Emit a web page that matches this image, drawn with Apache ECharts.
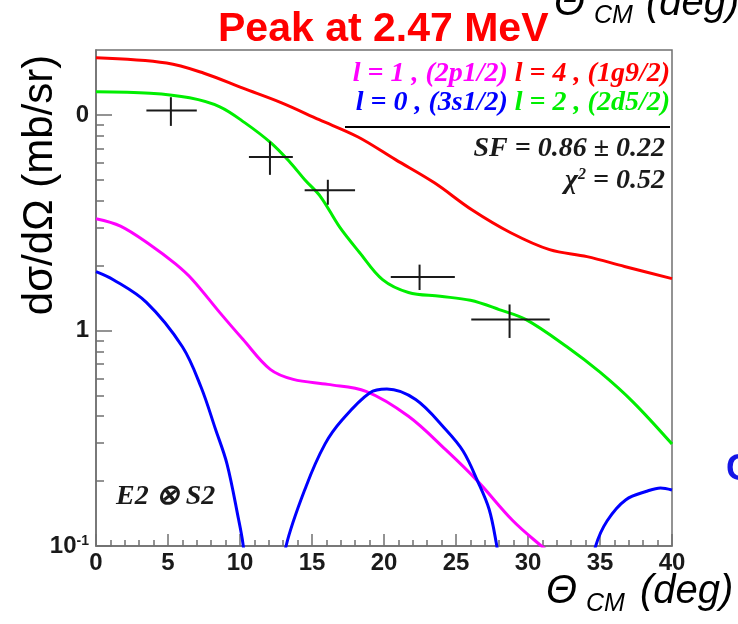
<!DOCTYPE html>
<html><head><meta charset="utf-8">
<script src="https://cdn.jsdelivr.net/npm/echarts@6/dist/echarts.min.js"></script>
<style>html,body{margin:0;padding:0;background:#fff}#c{width:738px;height:624px}</style>
</head><body><div id="c"></div>
<script>
// ---- axis ticks ----
const xMin = 0, xMax = 40, xInterval = 5;
const yMin = 0.1, yMax = 20;
const yMajorTicks = [0.1, 1, 10];
const yMinorTicks = [0.2,0.3,0.4,0.5,0.6,0.7,0.8,0.9,2,3,4,5,6,7,8,9];

// ---- l = 4 , (1g9/2)  (red) ----
const thetaL4 = [0,4.9,7.5,10.2,12.85,15.5,18.2,20.8,23.5,26.1,28.8,31.5,34.1,36.7,40];
const sigmaL4 = [18.4,17.4,15.6,13.3,11.4,9.5,7.9,6.2,4.84,3.63,2.84,2.37,2.2,1.98,1.74];

// ---- l = 2 , (2d5/2)  (green) ----
const thetaL2 = [0,3.75,6.5,8.6,10.35,12.15,13.5,14.5,15.6,16.9,18.3,19.9,21.7,23.9,26,28,29.9,32.7,35,37.3,40];
const sigmaL2 = [12.8,12.6,12.0,10.9,9.18,7.41,6.0,5.0,4.17,3.03,2.30,1.72,1.50,1.44,1.38,1.25,1.12,0.84,0.64,0.465,0.297];

// ---- l = 1 , (2p1/2)  (magenta) ----
const thetaL1 = [0,1.7,3.75,5.5,6.7,8.6,10.2,12.1,13.7,16.1,18.75,21.7,24.3,26.5,28.9,30.7,32,34];
const sigmaL1 = [3.3,3.05,2.5,2.04,1.72,1.21,0.91,0.66,0.593,0.562,0.522,0.40,0.279,0.2,0.132,0.103,0.088,0.07];

// ---- l = 0 , (3s1/2)  (blue) ----
const thetaL0 = [0,1.2,3.5,6,7.3,8.3,9.1,9.9,10.2,10.6,11.6,12.8,13.2,14.6,15.9,17.1,19,20.2,22.2,24.3,25.5,26.5,27.3,27.8,28.2,31.3,34.3,34.7,35.5,36.8,38.3,39.2,40];
const sigmaL0 = [1.875,1.72,1.35,0.84,0.545,0.348,0.24,0.133,0.103,0.06,0.01,0.06,0.1,0.19,0.297,0.385,0.513,0.535,0.478,0.346,0.275,0.2,0.148,0.103,0.07,0.01,0.07,0.1,0.131,0.164,0.18,0.186,0.182];

// ---- measured points with errors ----
const dataTheta = [5.2, 12.08, 16.1, 22.47, 28.72];
const dataSigma = [10.47, 6.37, 4.47, 1.77, 1.125];
const thetaLo = [3.5, 10.62, 14.49, 20.47, 26.06];
const thetaHi = [7.0, 13.67, 17.99, 24.92, 31.51];
const sigmaLo = [8.89, 5.27, 3.83, 1.54, 0.923];
const sigmaHi = [12.08, 7.52, 5.0, 2.02, 1.32];

function pairs(xs, ys) { return xs.map((x, i) => [x, ys[i]]); }
const errData = dataTheta.map((x, i) => [x, dataSigma[i], thetaLo[i], thetaHi[i], sigmaLo[i], sigmaHi[i]]);

const axisGray = '#707070';
const sans = 'Liberation Sans';
const serif = 'Liberation Serif';

function lineSeries(name, xs, ys, color) {
  return { type: 'line', name: name, data: pairs(xs, ys), smooth: 0.35,
    showSymbol: false, clip: true, lineStyle: { color: color, width: 3 }, itemStyle: { color: color }, z: 3 };
}

function renderErr(params, api) {
  const xl = api.coord([api.value(2), api.value(1)]);
  const xh = api.coord([api.value(3), api.value(1)]);
  const yl = api.coord([api.value(0), api.value(4)]);
  const yh = api.coord([api.value(0), api.value(5)]);
  const st = { stroke: '#1a1a1a', lineWidth: 2 };
  return { type: 'group', children: [
    { type: 'line', shape: { x1: xl[0], y1: xl[1], x2: xh[0], y2: xh[1] }, style: st },
    { type: 'line', shape: { x1: yl[0], y1: yl[1], x2: yh[0], y2: yh[1] }, style: st }
  ]};
}

const chart = echarts.init(document.getElementById('c'), null, { renderer: 'canvas' });
const bi = { fontFamily: serif, fontStyle: 'italic', fontWeight: 'bold', fontSize: 28 };
chart.setOption({
  animation: false,
  backgroundColor: '#ffffff',
  title: { text: 'Peak at 2.47 MeV', left: 213, top: 4,
    textStyle: { fontFamily: sans, fontWeight: 'bold', fontSize: 41, color: '#ff0000' } },
  grid: { left: 96, top: 50, right: 66, bottom: 78, show: true, borderColor: axisGray, borderWidth: 1.5, backgroundColor: 'transparent' },
  xAxis: { type: 'value', min: xMin, max: xMax, interval: xInterval,
    axisLine: { show: true, lineStyle: { color: axisGray, width: 1.5 } },
    axisTick: { show: true, inside: true, length: 12, lineStyle: { color: axisGray, width: 1.5 } },
    minorTick: { show: true, splitNumber: 5, length: 6, lineStyle: { color: axisGray, width: 1.5 } },
    axisLabel: { fontFamily: sans, fontWeight: 'bold', fontSize: 24, color: '#1a1a1a', margin: 5, showMinLabel: true, showMaxLabel: true },
    splitLine: { show: false }, minorSplitLine: { show: false } },
  yAxis: [
    { type: 'log', logBase: 10, min: yMin, max: yMax,
      axisLine: { show: true, lineStyle: { color: axisGray, width: 1.5 } },
      axisTick: { show: true, inside: true, length: 16, customValues: yMajorTicks, lineStyle: { color: axisGray, width: 1.5 } },
      axisLabel: { customValues: yMajorTicks, margin: 7, color: '#1a1a1a',
        fontFamily: sans, fontWeight: 'bold', fontSize: 24,
        formatter: function (v) {
          const e = Math.round(Math.log10(v));
          if (e === -1) return '{a|10}{s|-1}';
          if (e === 0) return '{a|1}';
          return '{a|0}';
        },
        rich: { a: { fontFamily: sans, fontWeight: 'bold', fontSize: 24, color: '#1a1a1a' },
                s: { fontFamily: sans, fontWeight: 'bold', fontSize: 14, color: '#1a1a1a', verticalAlign: 'top', padding: [0, 0, 10, 0] } } },
      splitLine: { show: false } },
    { type: 'log', logBase: 10, min: yMin, max: yMax, position: 'left',
      axisLine: { show: false },
      axisTick: { show: true, inside: true, length: 8, customValues: yMinorTicks, lineStyle: { color: axisGray, width: 1.5 } },
      axisLabel: { show: false }, splitLine: { show: false } }
  ],
  series: [
    lineSeries('l = 4 , (1g9/2)', thetaL4, sigmaL4, '#ff0000'),
    lineSeries('l = 2 , (2d5/2)', thetaL2, sigmaL2, '#00ee00'),
    lineSeries('l = 1 , (2p1/2)', thetaL1, sigmaL1, '#ff00ff'),
    lineSeries('l = 0 , (3s1/2)', thetaL0, sigmaL0, '#0000ff'),
    { type: 'custom', name: 'data', renderItem: renderErr, data: errData, encode: { x: 0, y: 1 }, z: 5, clip: false }
  ],
  graphic: [
    { type: 'text', x: 40, y: 185, rotation: Math.PI / 2,
      style: { text: 'dσ/dΩ (mb/sr)', fontFamily: sans, fontSize: 42, fill: '#000', align: 'center', verticalAlign: 'middle' } },
    // x axis title
    { type: 'text', x: 546, y: 572, style: { text: 'Θ', fontFamily: sans, fontStyle: 'italic', fontSize: 40, fill: '#000' } },
    { type: 'text', x: 586, y: 592, style: { text: 'CM', fontFamily: sans, fontStyle: 'italic', fontSize: 25, fill: '#000' } },
    { type: 'text', x: 640, y: 572, style: { text: '(deg)', fontFamily: sans, fontStyle: 'italic', fontSize: 40, fill: '#000' } },
    // neighbouring panel remnants at the top right
    { type: 'text', x: 554, y: -16, style: { text: 'Θ', fontFamily: sans, fontStyle: 'italic', fontSize: 40, fill: '#000' } },
    { type: 'text', x: 594, y: 4, style: { text: 'CM', fontFamily: sans, fontStyle: 'italic', fontSize: 25, fill: '#000' } },
    { type: 'text', x: 646, y: -16, style: { text: '(deg)', fontFamily: sans, fontStyle: 'italic', fontSize: 40, fill: '#000' } },
    { type: 'text', x: 726, y: 452, style: { text: 'C', fontFamily: sans, fontWeight: 'bold', fontSize: 36, fill: '#1515e6' } },
    // legend
    { type: 'text', x: 670, y: 74, z: 10, style: { text: '{m|l = 1 , (2p1/2)} {r|l = 4 , (1g9/2)}', align: 'right', verticalAlign: 'middle',
        rich: { m: Object.assign({ fill: '#ff00ff' }, bi), r: Object.assign({ fill: '#ff0000' }, bi) }, ...bi } },
    { type: 'text', x: 670, y: 103, z: 10, style: { text: '{b|l = 0 , (3s1/2)} {g|l = 2 , (2d5/2)}', align: 'right', verticalAlign: 'middle',
        rich: { b: Object.assign({ fill: '#0000ff' }, bi), g: Object.assign({ fill: '#00ee00' }, bi) }, ...bi } },
    { type: 'line', z: 10, shape: { x1: 345, y1: 127, x2: 670, y2: 127 }, style: { stroke: '#000', lineWidth: 2 } },
    { type: 'text', x: 665, y: 149, z: 10, style: { text: 'SF = 0.86 ± 0.22', align: 'right', verticalAlign: 'middle', fill: '#1a1a1a', ...bi } },
    { type: 'text', x: 665, y: 181, z: 10, style: { text: '{a|χ}{s|2}{a| = 0.52}', align: 'right', verticalAlign: 'middle', fill: '#1a1a1a', ...bi,
        rich: { a: Object.assign({ fill: '#1a1a1a' }, bi), s: Object.assign({}, bi, { fill: '#1a1a1a', fontSize: 16, verticalAlign: 'top', padding: [0, 0, 12, 0] }) } } },
    { type: 'text', x: 116, y: 497, z: 10, style: { text: 'E2 ⊗ S2', align: 'left', verticalAlign: 'middle', fill: '#1a1a1a', ...bi } }
  ]
});
</script></body></html>
